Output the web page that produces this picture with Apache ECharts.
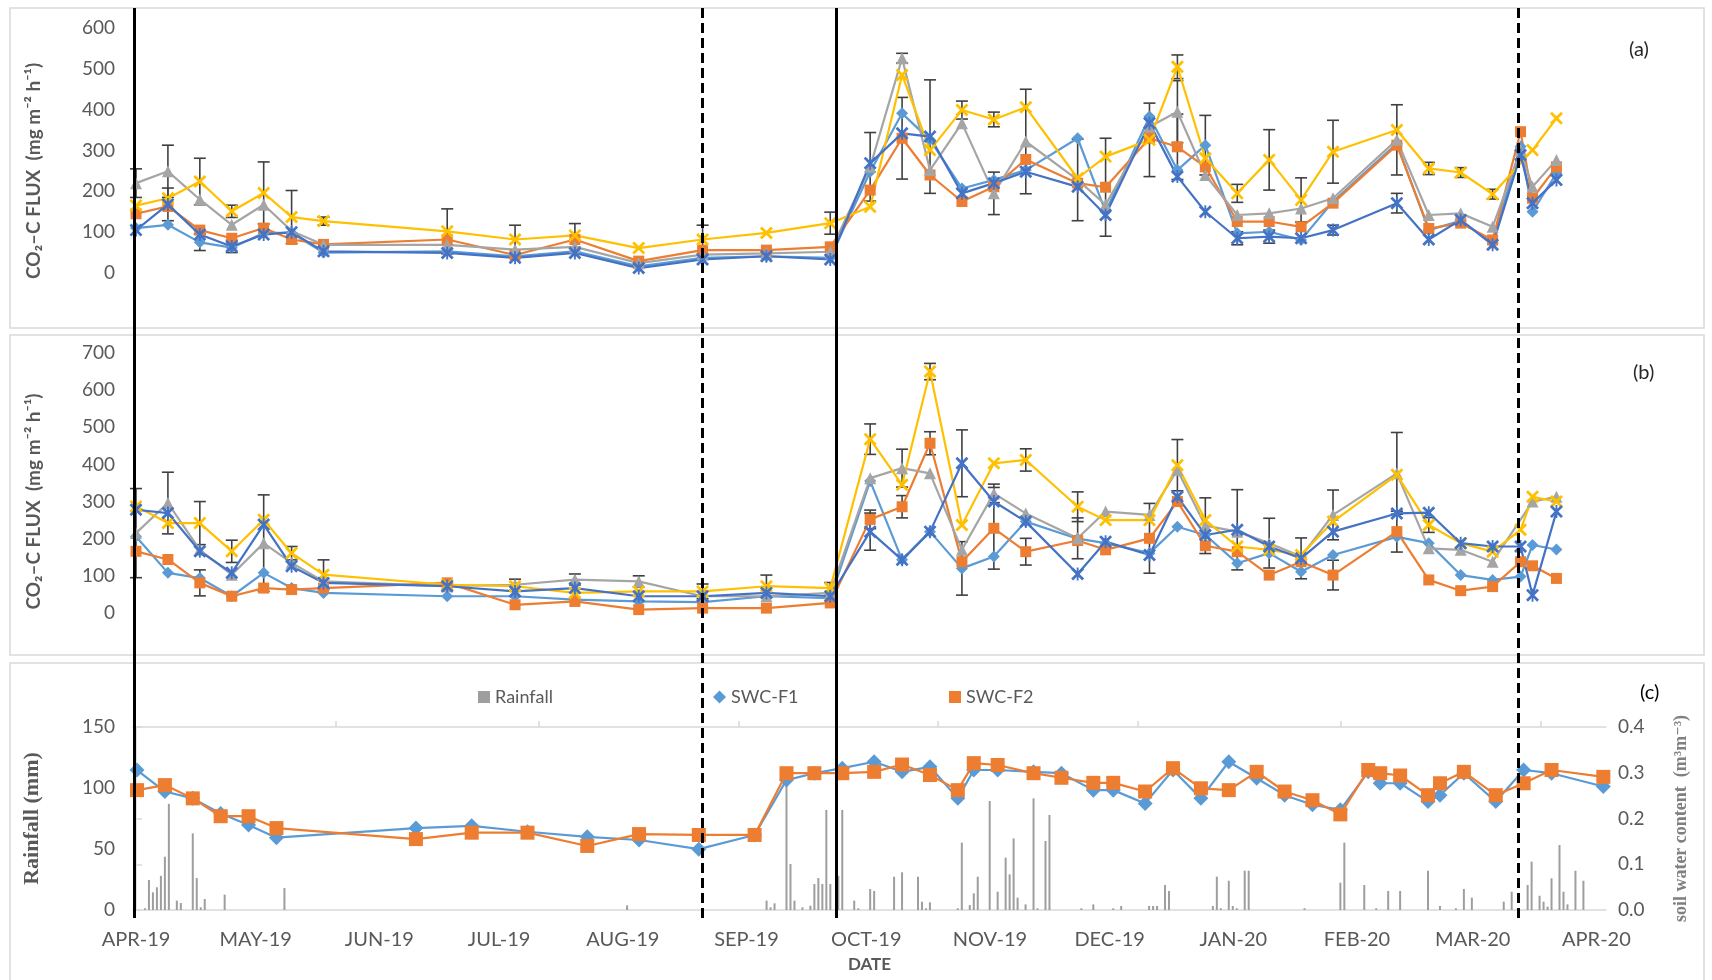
<!DOCTYPE html>
<html>
<head>
<meta charset="utf-8">
<title>CO2-C flux, rainfall and soil water content</title>
<script src="https://cdn.jsdelivr.net/npm/echarts@6/dist/echarts.min.js"></script>
<style>
  html, body { margin: 0; padding: 0; background: #fff; }
  #chart { width: 1712px; height: 980px; }
</style>
</head>
<body>
<div id="chart"></div>
<script>
// sampling dates of the flux panels (a) and (b)
const fluxDates = ['2019-04-01','2019-04-09','2019-04-17','2019-04-25','2019-05-03','2019-05-10','2019-05-18',
  '2019-06-18','2019-07-05','2019-07-20','2019-08-05','2019-08-21','2019-09-06','2019-09-22',
  '2019-10-02','2019-10-10','2019-10-17','2019-10-25','2019-11-02','2019-11-10','2019-11-23','2019-11-30',
  '2019-12-11','2019-12-18','2019-12-25','2020-01-02','2020-01-10','2020-01-18','2020-01-26',
  '2020-02-11','2020-02-19','2020-02-27','2020-03-06','2020-03-13','2020-03-16','2020-03-22'];

// panel (a)
const lightBlueA = [110,118,75,62,98,98,50,53,41,53,16,37,41,37,248,391,326,207,228,252,330,150,383,252,313,97,101,81,175,317,105,128,73,310,150,244];
const orangeA    = [145,163,105,85,110,82,70,82,44,82,29,56,56,64,203,330,240,175,211,278,220,210,330,309,260,126,126,113,171,313,109,122,81,346,183,260];
const grayA      = [220,249,180,118,167,103,69,69,57,64,24,45,48,52,260,526,252,367,195,322,228,167,358,395,240,142,146,158,183,326,142,146,113,300,211,277];
const yellowA    = [165,183,224,151,196,137,127,102,82,92,61,82,98,122,162,485,301,399,376,406,232,285,326,505,281,195,277,179,297,350,256,246,193,null,301,379];
const darkBlueA  = [105,168,94,65,94,100,53,49,37,49,12,33,41,33,269,342,334,195,220,248,211,142,367,236,150,85,89,85,105,171,82,130,69,289,171,228];
const lightBlueErrA = [0,0,20,0,0,0,0,0,0,0,0,0,0,0,0,0,0,0,0,0,0,0,0,0,73,0,0,0,0,0,0,0,0,0,0,0];
const orangeErrA    = [0,0,0,0,0,0,0,0,0,0,0,0,0,0,0,100,0,0,0,0,0,120,0,80,0,0,0,0,0,0,0,0,0,0,0,0];
const grayErrA      = [35,64,0,0,0,0,0,0,0,0,0,0,0,0,84,12,0,0,52,128,100,0,0,76,0,0,0,0,0,86,0,0,0,0,0,0];
const yellowErrA    = [0,0,57,15,76,65,10,55,35,29,0,35,0,27,0,0,0,22,18,0,0,0,90,29,0,22,74,54,77,0,15,12,12,0,0,0];
const darkBlueErrA  = [0,40,0,15,0,0,0,0,0,0,0,0,0,0,0,0,139,0,0,0,0,0,0,0,0,16,16,0,12,24,0,0,0,0,0,0];

// panel (b)
const lightBlueB = [206,108,94,45,108,67,54,45,45,36,31,29,45,40,355,143,219,120,152,246,200,188,161,232,210,134,161,111,156,205,188,102,89,98,183,171];
const orangeB    = [166,144,81,45,67,63,67,81,22,31,9,13,13,27,252,286,457,138,228,165,195,170,201,300,181,165,102,138,102,219,89,60,71,138,127,93];
const grayB      = [215,296,170,103,188,135,85,72,76,90,85,45,45,54,363,390,376,170,322,268,201,273,264,385,235,219,188,152,264,376,174,170,138,null,300,313];
const yellowB    = [287,242,242,166,251,161,103,76,72,54,58,58,72,67,468,345,650,237,403,412,286,250,250,398,250,179,170,156,246,372,237,188,165,224,313,300];
const darkBlueB  = [278,269,166,108,238,126,81,72,58,67,45,45,54,45,219,143,219,403,300,246,105,192,156,313,210,224,179,147,219,268,270,188,179,179,48,273];
const lightBlueErrB = [0,0,0,0,0,0,0,0,0,0,0,0,0,0,0,0,0,72,0,0,0,0,0,0,0,0,0,0,0,0,0,0,0,0,0,0];
const orangeErrB    = [0,0,35,0,0,0,0,0,0,0,0,0,0,0,25,30,31,0,110,36,0,0,94,0,0,0,0,0,40,55,0,0,0,0,0,0];
const grayErrB      = [120,83,0,0,130,0,0,0,15,15,15,0,0,0,0,51,0,0,25,0,55,0,0,0,75,0,67,0,67,110,0,0,0,0,0,0];
const yellowErrB    = [0,0,58,30,0,18,40,0,0,0,0,20,30,15,41,0,22,0,0,30,40,0,0,69,0,0,0,0,0,0,20,0,0,0,0,0];
const darkBlueErrB  = [0,0,0,0,0,0,0,0,0,0,0,0,0,0,50,0,0,90,0,0,0,0,0,0,0,108,0,55,0,0,0,0,0,0,0,0];

// panel (c): soil water content (m3 m-3)
const swcDates = ['2019-04-01','2019-04-08','2019-04-15','2019-04-22','2019-04-29','2019-05-06','2019-06-10','2019-06-24',
  '2019-07-08','2019-07-23','2019-08-05','2019-08-20','2019-09-03','2019-09-11','2019-09-18','2019-09-25',
  '2019-10-03','2019-10-10','2019-10-17','2019-10-24','2019-10-28','2019-11-03','2019-11-12','2019-11-19','2019-11-27',
  '2019-12-02','2019-12-10','2019-12-17','2019-12-24','2019-12-31','2020-01-07','2020-01-14','2020-01-21','2020-01-28',
  '2020-02-04','2020-02-07','2020-02-12','2020-02-19','2020-02-22','2020-02-28','2020-03-07','2020-03-14','2020-03-21','2020-04-03'];
const swcF1 = [0.306,0.259,0.244,0.211,0.186,0.158,0.179,0.184,0.171,0.160,0.153,0.133,0.164,0.284,0.299,0.310,
  0.324,0.302,0.313,0.244,0.306,0.306,0.302,0.299,0.262,0.262,0.233,0.306,0.244,0.324,0.288,0.251,0.230,0.219,
  0.302,0.277,0.277,0.237,0.251,0.299,0.237,0.306,0.299,0.270];
const swcF2 = [0.262,0.273,0.244,0.205,0.205,0.179,0.155,0.169,0.169,0.140,0.166,0.164,0.164,0.299,0.299,0.299,
  0.302,0.318,0.295,0.262,0.321,0.317,0.299,0.289,0.278,0.278,0.259,0.310,0.266,0.262,0.302,0.259,0.240,0.209,
  0.306,0.299,0.294,0.251,0.277,0.302,0.251,0.277,0.306,0.291];

// daily rainfall (mm)
const rainDates = ['2019-04-03','2019-04-04','2019-04-05','2019-04-06','2019-04-07','2019-04-08','2019-04-09','2019-04-11',
  '2019-04-12','2019-04-15','2019-04-16','2019-04-17','2019-04-18','2019-04-23','2019-05-08','2019-08-02',
  '2019-09-06','2019-09-07','2019-09-08','2019-09-11','2019-09-12','2019-09-13','2019-09-15','2019-09-17','2019-09-18',
  '2019-09-19','2019-09-20','2019-09-21','2019-09-22','2019-09-24','2019-09-25','2019-09-28','2019-09-29',
  '2019-10-02','2019-10-03','2019-10-08','2019-10-10','2019-10-14','2019-10-15','2019-10-16','2019-10-17','2019-10-24',
  '2019-10-25','2019-10-27','2019-10-28','2019-10-29','2019-11-01','2019-11-03','2019-11-05','2019-11-06','2019-11-07',
  '2019-11-08','2019-11-10','2019-11-12','2019-11-13','2019-11-15','2019-11-16','2019-11-24','2019-11-27',
  '2019-12-02','2019-12-04','2019-12-11','2019-12-12','2019-12-13','2019-12-15','2019-12-16','2019-12-27','2019-12-28',
  '2019-12-29','2019-12-31','2020-01-01','2020-01-02','2020-01-04','2020-01-05','2020-01-19','2020-01-28','2020-01-29',
  '2020-02-03','2020-02-06','2020-02-09','2020-02-12','2020-02-19','2020-02-22','2020-02-26','2020-02-28',
  '2020-03-01','2020-03-09','2020-03-11','2020-03-15','2020-03-16','2020-03-18','2020-03-19','2020-03-20','2020-03-21',
  '2020-03-23','2020-03-24','2020-03-25','2020-03-27','2020-03-29'];
const rainMm = [1.4,24.6,14.5,18.6,28,43.7,87,7.7,5.7,62.8,26.2,2.2,9,12.6,18,3.8,
  7.7,2.2,5.5,103,37.7,7.7,2.2,3.5,21.3,26.2,21.3,82,21.3,28,82,7.7,1.4,
  17.2,15.6,27.3,30.9,27.3,6.8,1.4,6.3,1.4,55.2,4.1,13.7,27.3,
  89.3,15,42.9,29.2,58.7,10.1,4.6,91.5,1.4,56.6,77.9,1.4,4.6,
  1.4,3.3,3.3,3.3,3.3,20.5,15.6,3.3,27.3,1.4,24,
  3.3,1.4,32.2,32.2,1.4,22.4,55.2,
  20.5,1.4,15.6,15.6,32.2,3.3,1.4,17.2,
  10.1,6.8,15,20.5,39.6,11.7,6.8,2.7,26,53.3,15,4.6,32.2,24];

// axis ticks and labels (day axis counts days from 1 Apr 2019)
const monthDays = [0, 30, 61, 91, 122, 153, 183, 214, 244, 275, 306, 335, 366];
const monthLabels = ['APR-19','MAY-19','JUN-19','JUL-19','AUG-19','SEP-19','OCT-19','NOV-19','DEC-19','JAN-20','FEB-20','MAR-20','APR-20'];
const rainAxisTicks = [50, 101, 151, 201, 251, 302, 352];
const solidLines = ['2019-03-31 12:00', '2019-09-23 12:00'];
const dashedLines = ['2019-08-21', '2020-03-12 12:00'];

const ts = s => +echarts.time.parse(s);
const X_MIN = ts('2019-03-31 06:00');
const X_MAX = ts('2020-04-03 10:00');
const DAY_MIN = -0.75, DAY_MAX = 368.4;
const LEFT = 133, RIGHT = 106;
const FONT = 'Lato, "Noto Sans", sans-serif';
const SERIF = '"Liberation Serif", "DejaVu Serif", serif';
const TXT = '#595959';
const FRAME = '#d9d9d9';

const SYM_X = 'path://M0,1.5L1.5,0L5,3.5L8.5,0L10,1.5L6.5,5L10,8.5L8.5,10L5,6.5L1.5,10L0,8.5L3.5,5Z';
const SYM_STAR = SYM_X + 'M4.3,0L5.7,0L5.7,10L4.3,10Z';

const fluxLook = [
  { name: 'T1', color: '#5B9BD5', symbol: 'diamond', size: 12 },
  { name: 'T2', color: '#ED7D31', symbol: 'rect', size: 11 },
  { name: 'T3', color: '#A5A5A5', symbol: 'triangle', size: 12 },
  { name: 'T4', color: '#FFC000', symbol: SYM_X, size: 13 },
  { name: 'T5', color: '#4472C4', symbol: SYM_STAR, size: 13 }
];

const pairs = (dates, vals) => dates.map((d, i) => [d, vals[i]]);

function errorSeries(axisIdx, valueSets, errSets) {
  const data = [];
  valueSets.forEach((vals, k) => {
    vals.forEach((v, i) => {
      const e = errSets[k][i];
      if (v != null && e) data.push([fluxDates[i], v - e, v + e]);
    });
  });
  return {
    type: 'custom',
    xAxisIndex: axisIdx,
    yAxisIndex: axisIdx,
    silent: true,
    z: 1,
    encode: { x: 0, y: [1, 2] },
    data: data,
    renderItem: (params, api) => {
      const x = api.value(0);
      const lo = api.coord([x, api.value(1)]);
      const hi = api.coord([x, api.value(2)]);
      const w = 6;
      const st = { stroke: '#404040', lineWidth: 1.6 };
      return {
        type: 'group',
        children: [
          { type: 'line', shape: { x1: lo[0], y1: lo[1], x2: hi[0], y2: hi[1] }, style: st },
          { type: 'line', shape: { x1: lo[0] - w, y1: lo[1], x2: lo[0] + w, y2: lo[1] }, style: st },
          { type: 'line', shape: { x1: hi[0] - w, y1: hi[1], x2: hi[0] + w, y2: hi[1] }, style: st }
        ]
      };
    }
  };
}

function fluxSeries(axisIdx, valueSets, errSets, tag) {
  const list = [errorSeries(axisIdx, valueSets, errSets)];
  valueSets.forEach((vals, k) => {
    const look = fluxLook[k];
    list.push({
      name: look.name + tag,
      type: 'line',
      xAxisIndex: axisIdx,
      yAxisIndex: axisIdx,
      data: pairs(fluxDates, vals),
      connectNulls: true,
      symbol: look.symbol,
      symbolSize: look.size,
      showAllSymbol: true,
      lineStyle: { color: look.color, width: 2.2 },
      itemStyle: { color: look.color },
      z: 2
    });
  });
  return list;
}

const hiddenTime = gi => ({
  type: 'time', gridIndex: gi, min: X_MIN, max: X_MAX, show: false
});

const fluxY = (gi, max) => ({
  type: 'value', gridIndex: gi, min: -100, max: max, interval: 100,
  axisLine: { show: false }, axisTick: { show: false }, splitLine: { show: false },
  axisLabel: { formatter: v => (v < 0 ? '' : String(v)), color: TXT, fontSize: 19, fontFamily: FONT, margin: 18 },
  name: 'CO₂–C FLUX  (mg m⁻² h⁻¹)',
  nameLocation: 'middle', nameRotate: 90, nameGap: 90,
  nameTextStyle: { color: TXT, fontSize: 19, fontWeight: 'bold', fontFamily: FONT }
});

const chart = echarts.init(document.getElementById('chart'));

const option = {
  animation: false,
  backgroundColor: '#fff',
  graphic: [
    { type: 'rect', shape: { x: 10, y: 8, width: 1694, height: 320 }, style: { fill: 'none', stroke: FRAME, lineWidth: 1.5 }, z: -10 },
    { type: 'rect', shape: { x: 10, y: 335, width: 1694, height: 320 }, style: { fill: 'none', stroke: FRAME, lineWidth: 1.5 }, z: -10 },
    { type: 'rect', shape: { x: 10, y: 663, width: 1694, height: 330 }, style: { fill: 'none', stroke: FRAME, lineWidth: 1.5 }, z: -10 }
  ],
  title: [
    { text: '(a)', left: 1624, top: 35, textStyle: { fontSize: 20, fontWeight: 'normal', color: '#262626', fontFamily: FONT } },
    { text: '(b)', left: 1628, top: 358, textStyle: { fontSize: 20, fontWeight: 'normal', color: '#262626', fontFamily: FONT } },
    { text: '(c)', left: 1635, top: 678, textStyle: { fontSize: 20, fontWeight: 'normal', color: '#000', fontFamily: FONT } }
  ],
  legend: [
    { data: [{ name: 'Rainfall', icon: 'rect' }], left: 473, top: 683, itemWidth: 12, itemHeight: 12,
      textStyle: { color: TXT, fontSize: 18, fontFamily: FONT } },
    { data: [{ name: 'SWC-F1', icon: 'diamond' }], left: 708, top: 683, itemWidth: 13, itemHeight: 13,
      textStyle: { color: TXT, fontSize: 18, fontFamily: FONT } },
    { data: [{ name: 'SWC-F2', icon: 'rect' }], left: 944, top: 683, itemWidth: 12, itemHeight: 12,
      textStyle: { color: TXT, fontSize: 18, fontFamily: FONT } }
  ],
  grid: [
    { left: LEFT, right: RIGHT, top: 28, height: 285.8 },
    { left: LEFT, right: RIGHT, top: 353, height: 297.1 },
    { left: LEFT, right: RIGHT, top: 727, height: 183 },
    { left: LEFT, right: RIGHT, top: 8, height: 910 }
  ],
  xAxis: [
    hiddenTime(0),
    hiddenTime(1),
    hiddenTime(2),
    {
      type: 'value', gridIndex: 2, min: DAY_MIN, max: DAY_MAX, position: 'bottom',
      axisLine: { show: true, onZero: false, lineStyle: { color: FRAME, width: 1.5 } },
      axisTick: { show: false },
      splitLine: { show: false },
      axisLabel: {
        customValues: monthDays,
        formatter: v => {
          const i = monthDays.indexOf(v);
          return i >= 0 ? monthLabels[i] : '';
        },
        color: TXT, fontSize: 20, fontFamily: FONT, margin: 20
      },
      name: 'DATE', nameLocation: 'middle', nameGap: 46,
      nameTextStyle: { color: TXT, fontSize: 17, fontWeight: 'bold', fontFamily: FONT }
    },
    {
      type: 'value', gridIndex: 2, min: DAY_MIN, max: DAY_MAX, position: 'top',
      axisLine: { show: true, onZero: false, lineStyle: { color: FRAME, width: 1.5 } },
      axisTick: { show: true, customValues: rainAxisTicks, length: 6, lineStyle: { color: FRAME, width: 1.5 } },
      axisLabel: { show: false },
      splitLine: { show: false }
    },
    hiddenTime(3)
  ],
  yAxis: [
    fluxY(0, 600),
    fluxY(1, 700),
    {
      type: 'value', gridIndex: 2, min: 0, max: 150, interval: 50,
      axisLine: { show: false }, axisTick: { show: false }, splitLine: { show: false },
      axisLabel: { color: TXT, fontSize: 19, fontFamily: FONT, margin: 18 },
      name: 'Rainfall (mm)', nameLocation: 'middle', nameRotate: 90, nameGap: 90,
      nameTextStyle: { color: TXT, fontSize: 22, fontWeight: 'bold', fontFamily: SERIF }
    },
    {
      type: 'value', gridIndex: 2, min: 0, max: 0.4, interval: 0.1, position: 'right',
      axisLine: { show: true, lineStyle: { color: FRAME, width: 1.5 } },
      axisTick: { show: true, length: 6, lineStyle: { color: FRAME, width: 1.5 } },
      splitLine: { show: false },
      axisLabel: { formatter: v => v.toFixed(1), color: TXT, fontSize: 19, fontFamily: FONT, margin: 12 },
      name: 'soil water content  (m³m⁻³)', nameLocation: 'middle', nameRotate: 90, nameGap: 66,
      nameTextStyle: { color: '#808080', fontSize: 18, fontWeight: 'bold', fontFamily: SERIF }
    },
    { type: 'value', gridIndex: 3, min: 0, max: 1, show: false }
  ],
  series: [
    ...fluxSeries(0, [lightBlueA, orangeA, grayA, yellowA, darkBlueA],
      [lightBlueErrA, orangeErrA, grayErrA, yellowErrA, darkBlueErrA], ' (a)'),
    ...fluxSeries(1, [lightBlueB, orangeB, grayB, yellowB, darkBlueB],
      [lightBlueErrB, orangeErrB, grayErrB, yellowErrB, darkBlueErrB], ' (b)'),
    {
      name: 'Rainfall', type: 'bar', xAxisIndex: 2, yAxisIndex: 2,
      data: pairs(rainDates, rainMm), barWidth: 2,
      itemStyle: { color: '#9e9e9e' }, z: 1
    },
    {
      name: 'SWC-F1', type: 'line', xAxisIndex: 2, yAxisIndex: 3,
      data: pairs(swcDates, swcF1), symbol: 'diamond', symbolSize: 15, showAllSymbol: true,
      lineStyle: { color: '#5B9BD5', width: 2.2 }, itemStyle: { color: '#5B9BD5' }, z: 2
    },
    {
      name: 'SWC-F2', type: 'line', xAxisIndex: 2, yAxisIndex: 3,
      data: pairs(swcDates, swcF2), symbol: 'rect', symbolSize: 14, showAllSymbol: true,
      lineStyle: { color: '#ED7D31', width: 2.2 }, itemStyle: { color: '#ED7D31' }, z: 3
    },
    {
      name: 'periods', type: 'line', xAxisIndex: 5, yAxisIndex: 4, data: [], silent: true, z: 10,
      markLine: {
        symbol: ['none', 'none'], silent: true, animation: false, label: { show: false },
        data: [
          ...solidLines.map(d => ({ xAxis: ts(d), lineStyle: { color: '#000', width: 3, type: 'solid' } })),
          ...dashedLines.map(d => ({ xAxis: ts(d), lineStyle: { color: '#000', width: 3, type: [10, 5] } }))
        ]
      }
    }
  ]
};

chart.setOption(option);
</script>
</body>
</html>
